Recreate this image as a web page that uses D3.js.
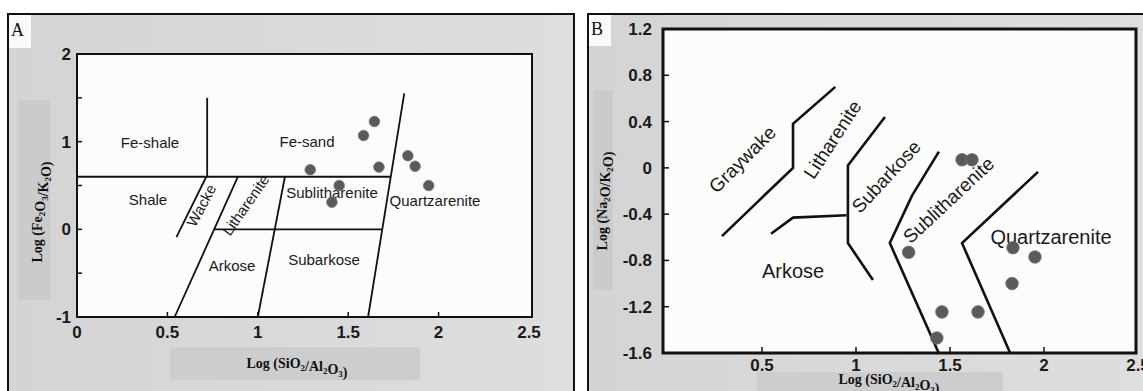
<!DOCTYPE html>
<html><head><meta charset="utf-8">
<script src="https://cdn.jsdelivr.net/npm/d3@7"></script>
<style>html,body{margin:0;padding:0;background:#fff;overflow:hidden}</style>
</head><body>
<svg id="c" width="1143" height="391"></svg>
<script>
// ---------- DATA ----------
const aXTicks = [0, 0.5, 1, 1.5, 2, 2.5];
const aYTicks = [-1, 0, 1, 2];
const aYMinor = [-0.5, 0.5, 1.5];
const bXTicks = [0.5, 1, 1.5, 2, 2.5];
const bYTicks = [-1.6, -1.2, -0.8, -0.4, 0, 0.4, 0.8, 1.2];

// Panel A boundaries (Herron 1988)
const aLines = [
  [[0, 0.6], [1.735, 0.6]],
  [[0.72, 1.5], [0.72, 0.6]],
  [[0.55, -0.09], [0.715, 0.6]],
  [[0.54, -1], [0.89, 0.6]],
  [[0.76, 0], [1.69, 0]],
  [[1.0, -1], [1.15, 0.6]],
  [[1.61, -1], [1.81, 1.55]]
];
const aPointsX = [1.645, 1.585, 1.29, 1.67, 1.83, 1.87, 1.945, 1.45, 1.41];
const aPointsY = [1.23, 1.07, 0.68, 0.71, 0.84, 0.72, 0.50, 0.50, 0.31];
const aLabels = ["Fe-shale", "Fe-sand", "Shale", "Wacke", "Litharenite", "Sublitharenite", "Quartzarenite", "Arkose", "Subarkose"];

// Panel B boundaries (Pettijohn 1972)
const bLines = [
  [[0.287, -0.59], [0.665, 0], [0.665, 0.38], [0.89, 0.70]],
  [[0.548, -0.57], [0.665, -0.43], [0.95, -0.41]],
  [[1.154, 0.44], [0.957, 0.02], [0.957, -0.65], [1.09, -0.97]],
  [[1.441, 0.14], [1.298, -0.24], [1.18, -0.65], [1.44, -1.6]],
  [[1.968, -0.035], [1.564, -0.65], [1.82, -1.6]]
];
const bPointsX = [1.564, 1.617, 1.28, 1.835, 1.952, 1.83, 1.457, 1.649, 1.43];
const bPointsY = [0.07, 0.07, -0.73, -0.69, -0.77, -1.0, -1.245, -1.245, -1.47];
const bLabels = ["Graywake", "Litharenite", "Subarkose", "Sublitharenite", "Quartzarenite", "Arkose"];

// ---------- DRAW ----------
const svg = d3.select("#c");
const sans = "Liberation Sans, Arial, sans-serif";
const serif = "Liberation Serif, Times New Roman, serif";

const xA = d3.scaleLinear().domain([0, 2.5]).range([77, 529]);
const yA = d3.scaleLinear().domain([-1, 2]).range([317, 54]);
const xB = d3.scaleLinear().domain([0, 2.5]).range([668, 1138]);
const yB = d3.scaleLinear().domain([-1.6, 1.2]).range([353, 29]);

const defs = svg.append("defs");
const g = defs.append("linearGradient").attr("id", "bg").attr("x1", 0).attr("x2", 1).attr("y1", 0).attr("y2", 0);
g.append("stop").attr("offset", "0%").attr("stop-color", "#d4d4d4");
g.append("stop").attr("offset", "100%").attr("stop-color", "#dedede");

svg.append("rect").attr("x", 8).attr("y", 14).attr("width", 566).attr("height", 400)
  .attr("fill", "url(#bg)").attr("stroke", "#111").attr("stroke-width", 2);
svg.append("rect").attr("x", 588).attr("y", 14).attr("width", 560).attr("height", 400)
  .attr("fill", "url(#bg)").attr("stroke", "#111").attr("stroke-width", 2);

svg.append("rect").attr("x", 18).attr("y", 100).attr("width", 32).attr("height", 200).attr("fill", "#cbcbcb");
svg.append("rect").attr("x", 170).attr("y", 347).attr("width", 250).attr("height", 33).attr("fill", "#cdcdcd");
svg.append("rect").attr("x", 593).attr("y", 90).attr("width", 20).attr("height", 200).attr("fill", "#cbcbcb");
svg.append("rect").attr("x", 757).attr("y", 372).attr("width", 246).attr("height", 25).attr("fill", "#cdcdcd");

svg.append("rect").attr("x", 9).attr("y", 15).attr("width", 22).attr("height", 33).attr("fill", "#fafafa");
svg.append("text").attr("x", 11).attr("y", 36).attr("font-family", serif).attr("font-size", 18).attr("fill", "#111").text("A");
svg.append("rect").attr("x", 589).attr("y", 15).attr("width", 22).attr("height", 31).attr("fill", "#fafafa");
svg.append("text").attr("x", 591).attr("y", 35).attr("font-family", serif).attr("font-size", 18).attr("fill", "#111").text("B");

svg.append("rect").attr("x", xA(0)).attr("y", yA(2)).attr("width", 532 - xA(0)).attr("height", yA(-1) - yA(2))
  .attr("fill", "#fcfcfc").attr("stroke", "#111").attr("stroke-width", 2);
svg.append("rect").attr("x", 663).attr("y", yB(1.2)).attr("width", 1136 - 663).attr("height", yB(-1.6) - yB(1.2))
  .attr("fill", "#fcfcfc").attr("stroke", "#111").attr("stroke-width", 3);

const tickStyle = s => s.attr("stroke", "#111").attr("stroke-width", 1.5);
aXTicks.filter(v => v > 0 && v < 2.5).forEach(v => {
  svg.append("line").attr("x1", xA(v)).attr("x2", xA(v)).attr("y1", yA(-1)).attr("y2", yA(-1) - 5).call(tickStyle);
});
aYTicks.concat(aYMinor).filter(v => v > -1 && v < 2).forEach(v => {
  svg.append("line").attr("x1", xA(0)).attr("x2", xA(0) + 5).attr("y1", yA(v)).attr("y2", yA(v)).call(tickStyle);
});
svg.selectAll(".axt").data(aXTicks).join("text")
  .attr("x", d => xA(d)).attr("y", 338).attr("text-anchor", "middle")
  .attr("font-family", sans).attr("font-weight", "bold").attr("font-size", 17).attr("fill", "#1a1a1a")
  .text(d => d);
svg.selectAll(".ayt").data(aYTicks).join("text")
  .attr("x", 71).attr("y", d => yA(d) + 6).attr("text-anchor", "end")
  .attr("font-family", sans).attr("font-weight", "bold").attr("font-size", 17).attr("fill", "#1a1a1a")
  .text(d => d);

bXTicks.filter(v => v < 2.5).forEach(v => {
  svg.append("line").attr("x1", xB(v)).attr("x2", xB(v)).attr("y1", yB(-1.6)).attr("y2", yB(-1.6) - 6).call(tickStyle);
});
bYTicks.filter(v => v > -1.6 && v < 1.2).forEach(v => {
  svg.append("line").attr("x1", 663).attr("x2", 669).attr("y1", yB(v)).attr("y2", yB(v)).call(tickStyle);
});
svg.selectAll(".bxt").data(bXTicks).join("text")
  .attr("x", d => xB(d)).attr("y", 371).attr("text-anchor", "middle")
  .attr("font-family", sans).attr("font-weight", "bold").attr("font-size", 17).attr("fill", "#1a1a1a")
  .text(d => d);
svg.selectAll(".byt").data(bYTicks).join("text")
  .attr("x", 652).attr("y", d => yB(d) + 6).attr("text-anchor", "end")
  .attr("font-family", sans).attr("font-weight", "bold").attr("font-size", 17).attr("fill", "#1a1a1a")
  .text(d => d);

function title(x, y, rot, parts) {
  const t = svg.append("text").attr("transform", `translate(${x},${y}) rotate(${rot})`)
    .attr("text-anchor", "middle").attr("font-family", serif).attr("font-weight", "bold")
    .attr("font-size", 14).attr("fill", "#111");
  parts.forEach(p => {
    if (p.sub) {
      t.append("tspan").attr("font-size", 9).attr("dy", 3).text(p.t);
      t.append("tspan").attr("dy", -3).text("");
    } else t.append("tspan").text(p.t);
  });
}
const xTitle = [{t: "Log (SiO"}, {t: "2", sub: 1}, {t: "/Al"}, {t: "2", sub: 1}, {t: "O"}, {t: "3", sub: 1}, {t: ")"}];
title(297, 368, 0, xTitle);
title(889, 384, 0, xTitle);
title(42, 212, -90, [{t: "Log (Fe"}, {t: "2", sub: 1}, {t: "O"}, {t: "3", sub: 1}, {t: "/K"}, {t: "2", sub: 1}, {t: "O)"}]);
title(607, 201, -90, [{t: "Log (Na"}, {t: "2", sub: 1}, {t: "O/K"}, {t: "2", sub: 1}, {t: "O)"}]);

const lineA = d3.line().x(d => xA(d[0])).y(d => yA(d[1]));
const lineB = d3.line().x(d => xB(d[0])).y(d => yB(d[1]));
svg.selectAll(".la").data(aLines).join("path").attr("d", lineA)
  .attr("fill", "none").attr("stroke", "#111").attr("stroke-width", 1.8);
svg.selectAll(".lb").data(bLines).join("path").attr("d", lineB)
  .attr("fill", "none").attr("stroke", "#111").attr("stroke-width", 2.6).attr("stroke-linejoin", "miter");

const aLabelPos = [[150, 143, 0], [307, 142, 0], [148, 200, 0], [206, 203, -62], [250, 203, -55],
                   [332, 193, 0], [435, 201, 0], [232, 266, 0], [324, 260, 0]];
svg.selectAll(".lta").data(aLabels).join("text")
  .attr("transform", (d, i) => `translate(${aLabelPos[i][0]},${aLabelPos[i][1] + 5}) rotate(${aLabelPos[i][2]})`)
  .attr("text-anchor", "middle").attr("font-family", sans).attr("font-size", 15).attr("fill", "#1a1a1a")
  .text(d => d);

const bLabelPos = [[747, 157, -45, 19], [838, 136, -57, 19], [891, 174, -47, 19], [953, 198, -43, 19],
                   [1051, 237, 0, 20], [793, 271, 0, 20]];
svg.selectAll(".ltb").data(bLabels).join("text")
  .attr("transform", (d, i) => `translate(${bLabelPos[i][0]},${bLabelPos[i][1] + 7}) rotate(${bLabelPos[i][2]})`)
  .attr("text-anchor", "middle").attr("font-family", sans).attr("font-size", (d, i) => bLabelPos[i][3]).attr("fill", "#1a1a1a")
  .text(d => d);

svg.selectAll(".pa").data(aPointsX).join("circle")
  .attr("cx", d => xA(d)).attr("cy", (d, i) => yA(aPointsY[i])).attr("r", 5.3)
  .attr("fill", "#5a5a5a").attr("stroke", "#777").attr("stroke-width", 0.8);
svg.selectAll(".pb").data(bPointsX).join("circle")
  .attr("cx", d => xB(d)).attr("cy", (d, i) => yB(bPointsY[i])).attr("r", 6.3)
  .attr("fill", "#5a5a5a").attr("stroke", "#777").attr("stroke-width", 0.8);
</script>
</body></html>
